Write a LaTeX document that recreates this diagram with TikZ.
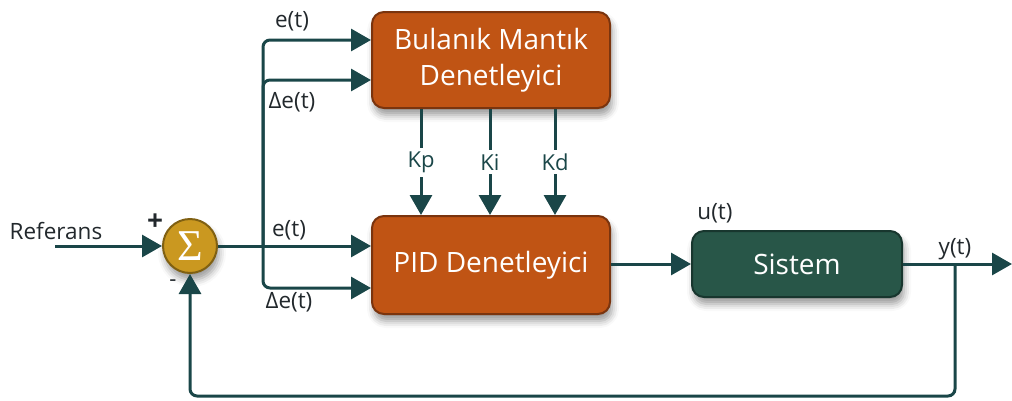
\documentclass[tikz,border=0pt]{standalone}
\usepackage{fontspec}
\setmainfont{Open Sans}
\newfontfamily\sigmafont{Liberation Serif}
\usetikzlibrary{arrows.meta,shadows.blur,calc}
\definecolor{wirec}{RGB}{26,70,72}
\definecolor{rust}{RGB}{192,84,20}
\definecolor{rustdark}{RGB}{122,52,14}
\definecolor{pine}{RGB}{40,86,72}
\definecolor{pinedark}{RGB}{24,54,46}
\definecolor{gold}{RGB}{202,152,32}
\definecolor{golddark}{RGB}{128,96,18}
\definecolor{labelc}{RGB}{34,40,44}
\begin{document}
\begin{tikzpicture}[x=1pt,y=-1pt,
  headtip/.tip={Triangle[length=20pt 0 0,width=22pt 0 0]},
  wire/.style={draw=wirec, line width=3pt},
  flow/.style={wire, -headtip},
  shade/.style={blur shadow={shadow xshift=2pt, shadow yshift=-7pt,
      shadow blur radius=7pt, shadow opacity=40}},
  block/.style={shade, rounded corners=12pt, line width=2pt, text=white,
      align=center, font=\fontsize{28}{36}\selectfont},
  fuzzybox/.style={block, fill=rust, draw=rustdark,
      minimum width=238pt, minimum height=96pt},
  pidbox/.style={block, fill=rust, draw=rustdark,
      minimum width=238pt, minimum height=98pt},
  plantbox/.style={block, fill=pine, draw=pinedark,
      minimum width=210pt, minimum height=66pt},
  sumnode/.style={shade, circle, fill=gold, draw=golddark, line width=2pt,
      minimum size=54pt, inner sep=0pt, text=white},
  lbl/.style={text=labelc, font=\fontsize{22.5}{26}\selectfont, inner sep=1pt},
  gain/.style={text=wirec, fill=white, font=\fontsize{22}{26}\selectfont,
      inner sep=4pt}
]
\useasboundingbox (0,0) rectangle (1012,400);

% blocks
\node[fuzzybox] (flc) at (491,60) {Bulanık Mantık\\Denetleyici};
\node[pidbox] (pid) at (491,265) {PID Denetleyici};
\node[plantbox] (plant) at (797,264) {Sistem};
\node[sumnode] (sum) at (190,246) {\sigmafont\fontsize{44}{44}\selectfont Σ};

% reference input
\node[lbl] (ref) at (56,231) {Referans};
\coordinate (refin) at (55,246);
\draw[flow] (refin) -- (sum.west);
\node[font=\fontsize{28}{28}\selectfont\bfseries, text=labelc] (plus) at (155,222) {+};
\node[font=\fontsize{22}{22}\selectfont, text=labelc] (minus) at (173,283) {-};

% error distribution
\coordinate (split) at (263,246);
\coordinate (f1) at ($(flc.west)+(0,-20)$);
\coordinate (f2) at ($(flc.west)+(0,20)$);
\coordinate (p1) at ($(pid.west)+(0,-19)$);
\coordinate (p2) at ($(pid.west)+(0,23)$);
\draw[flow] (sum.east) -- (split) -- (p1);
\draw[wire, rounded corners=7pt, headtip-headtip] (f1) -| (split) |- (p2);
\draw[flow, rounded corners=7pt] (split) |- (f2);

\node[lbl] (e1) at (292,21) {e(t)};
\node[lbl] (de1) at (292,102) {Δe(t)};
\node[lbl] (e2) at (289,230) {e(t)};
\node[lbl] (de2) at (289,302) {Δe(t)};

% gains
\foreach \gx/\gname in {421/Kp, 490/Ki, 555/Kd}{
  \draw[flow] (flc.south -| \gx,0) -- node[gain] {\gname} (pid.north -| \gx,0);
}

% controller to plant
\coordinate (pout) at (pid.east |- plant.west);
\draw[flow] (pout) -- (plant.west);
\node[lbl] (u) at (715,213) {u(t)};

% output and feedback
\coordinate (tap) at (955,264);
\coordinate (yend) at (1012,264);
\coordinate (fbl) at (955,396);
\draw[flow] (plant.east) -- (yend);
\node[lbl] (y) at (955,249) {y(t)};
\draw[flow, rounded corners=7pt] (tap) -- (fbl) -| (sum.south);
\end{tikzpicture}
\end{document}
